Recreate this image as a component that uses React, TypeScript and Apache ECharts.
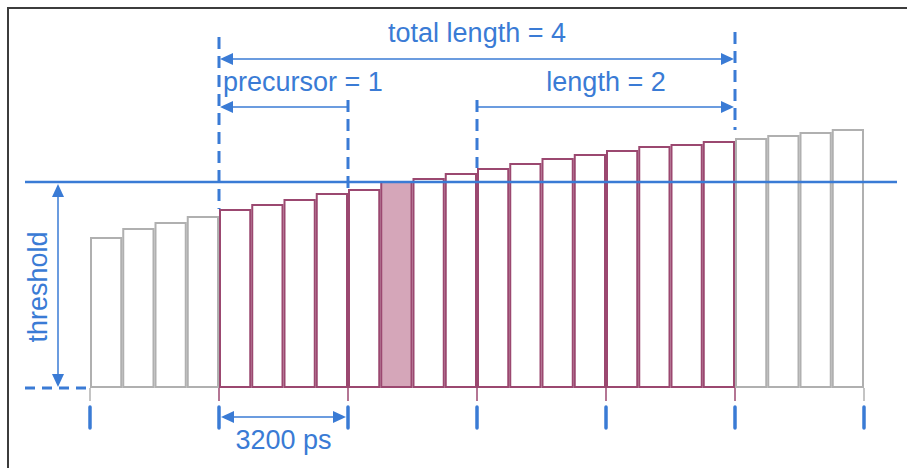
import React, { useEffect, useRef } from "react";
import * as echarts from "echarts";

// ---- data ----
const barValues = [151, 160, 166, 172, 179, 184, 189, 195, 199, 207, 210, 215, 220, 225, 230, 234, 238, 242, 244, 247, 250, 253, 256, 259];
const categories = barValues.map((_, i) => `s${i + 1}`);
const thresholdValue = 206;
const windowStart = 4; // first bar of total window
const precursorEnd = 8; // boundary where precursor ends
const triggerIndex = 9; // bar that crosses threshold
const lengthStart = 12; // boundary where length starts
const windowEnd = 20; // boundary where total window ends
const barsPerUnit = 4;
const labelTotal = "total length = 4";
const labelPrecursor = "precursor = 1";
const labelLength = "length = 2";
const labelPeriod = "3200 ps";
const labelThreshold = "threshold";

const BLUE = "#3a7bd5";
const GRAY = "#b0b0b0";
const MAROON = "#9b4870";
const PINK = "#d5a6b9";
const FONT = '27px "Liberation Sans", Arial, sans-serif';

export default function App() {
  const ref = useRef<HTMLDivElement>(null);
  useEffect(() => {
    const chart = echarts.init(ref.current!, undefined, { renderer: "svg" });
    const data = barValues.map((v, i) => {
      const inside = i >= windowStart && i < windowEnd;
      return {
        value: v,
        itemStyle: {
          color: i === triggerIndex ? PINK : "#ffffff",
          borderColor: inside ? MAROON : GRAY,
          borderWidth: 2,
        },
      };
    });
    chart.setOption({
      animation: false,
      grid: { left: 90, right: 43, top: 88, bottom: 80 },
      xAxis: {
        type: "category",
        data: categories,
        boundaryGap: true,
        axisLine: { show: false },
        axisTick: { show: false },
        axisLabel: { show: false },
      },
      yAxis: { type: "value", min: 0, max: 300, show: false, splitLine: { show: false } },
      series: [{ type: "bar", data, barCategoryGap: "0%", barGap: "0%" }],
    });

    const c0 = chart.convertToPixel({ xAxisIndex: 0 }, categories[0]) as number;
    const c1 = chart.convertToPixel({ xAxisIndex: 0 }, categories[1]) as number;
    const bw = c1 - c0;
    const bx = (k: number) => c0 - bw / 2 + k * bw;
    const py = (v: number) => chart.convertToPixel({ yAxisIndex: 0 }, v) as number;
    const base = py(0);
    const thrY = py(thresholdValue);

    const g: any[] = [];
    const line = (x1: number, y1: number, x2: number, y2: number, stroke: string, lw: number, dash?: number[], cap = "butt") =>
      g.push({ type: "line", shape: { x1, y1, x2, y2 }, style: { stroke, lineWidth: lw, lineDash: dash, lineCap: cap }, z: 100 });
    const arrowHead = (x: number, y: number, dir: "l" | "r" | "u" | "d", len = 13, half = 6) => {
      let pts: number[][] = [];
      if (dir === "l") pts = [[x, y], [x + len, y - half], [x + len, y + half]];
      if (dir === "r") pts = [[x, y], [x - len, y - half], [x - len, y + half]];
      if (dir === "u") pts = [[x, y], [x - half, y + len], [x + half, y + len]];
      if (dir === "d") pts = [[x, y], [x - half, y - len], [x + half, y - len]];
      g.push({ type: "polygon", shape: { points: pts }, style: { fill: BLUE }, z: 101 });
    };
    const text = (t: string, x: number, y: number, align: string, rot = 0) =>
      g.push({
        type: "text",
        x,
        y,
        rotation: rot,
        style: { text: t, x: 0, y: 0, font: FONT, fill: BLUE, align, verticalAlign: "middle", textAlign: align, textVerticalAlign: "middle" },
        z: 102,
      });

    // frame
    line(7, 8, 907, 8, "#3c3c3c", 2);
    line(8, 7, 8, 468, "#3c3c3c", 2);

    // threshold line
    line(25, thrY, 897, thrY, BLUE, 2.5);
    // threshold dimension
    line(58, thrY + 10, 58, base - 10, BLUE, 1.5);
    arrowHead(58, thrY + 2, "u");
    arrowHead(58, base - 1, "d");
    line(25, base, bx(0), base, BLUE, 3, [10, 7]);
    text(labelThreshold, 38, (thrY + base) / 2 + 2, "center", Math.PI / 2);

    // small axis ticks under baseline + blue period ticks
    for (let k = 0; k <= barValues.length; k += barsPerUnit) {
      const inside = k >= windowStart && k <= windowEnd;
      line(bx(k), base, bx(k), base + 13, inside ? MAROON : GRAY, 1.5);
      line(bx(k), 407, bx(k), 428, BLUE, 3.5, undefined, "round");
    }

    // vertical dashed markers
    const xs = bx(windowStart), xp = bx(precursorEnd), xl = bx(lengthStart), xe = bx(windowEnd);
    line(xs, 37, xs, py(barValues[windowStart]), BLUE, 3, [12, 7]);
    line(xe, 32, xe, py(barValues[windowEnd]) - 8, BLUE, 3, [12, 7]);
    line(xp, 100, xp, py(barValues[precursorEnd]), BLUE, 3, [12, 7]);
    line(xl, 100, xl, py(barValues[lengthStart]), BLUE, 3, [12, 7]);

    // total length
    line(xs + 8, 59, xe - 8, 59, BLUE, 1.5);
    arrowHead(xs + 1, 59, "l");
    arrowHead(xe - 1, 59, "r");
    text(labelTotal, (xs + xe) / 2, 33, "center");

    // precursor
    line(xs + 8, 107, xp, 107, BLUE, 1.5);
    arrowHead(xs + 1, 107, "l");
    line(xp, 103, xp, 111, BLUE, 1.5);
    text(labelPrecursor, xs + 4, 82, "left");

    // length
    line(xl, 107, xe - 8, 107, BLUE, 1.5);
    arrowHead(xe - 1, 107, "r");
    line(xl, 103, xl, 111, BLUE, 1.5);
    text(labelLength, (xl + xe) / 2, 82, "center");

    // 3200 ps
    line(xs + 8, 417, xp - 8, 417, BLUE, 1.5);
    arrowHead(xs + 2, 417, "l");
    arrowHead(xp - 2, 417, "r");
    text(labelPeriod, (xs + xp) / 2, 440, "center");

    chart.setOption({ graphic: g });
    return () => chart.dispose();
  }, []);
  return <div ref={ref} style={{ position: "absolute", left: 0, top: 0, width: 907, height: 468, background: "#fff" }} />;
}
